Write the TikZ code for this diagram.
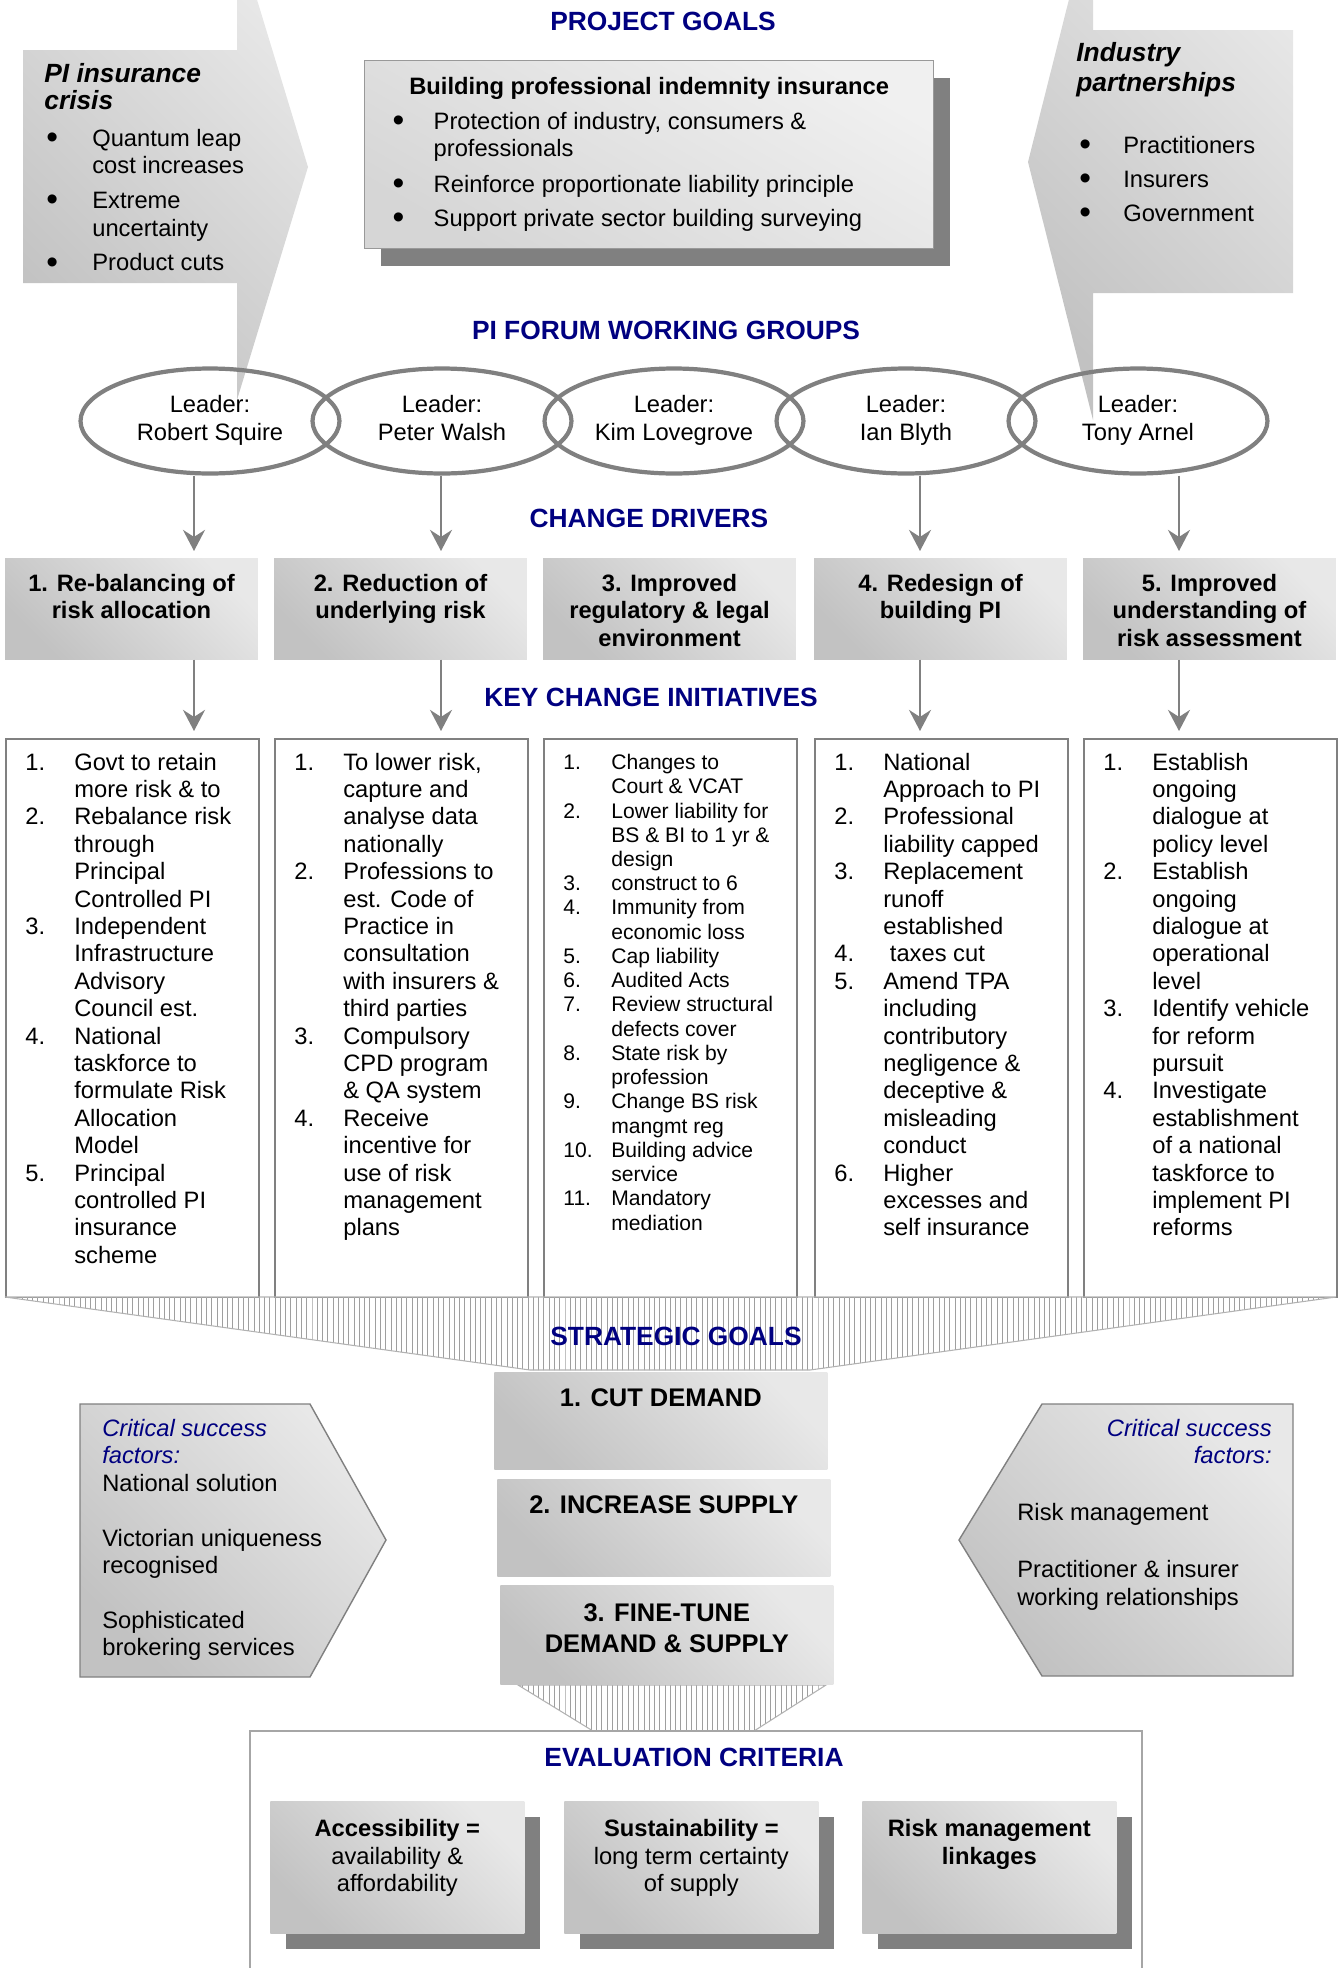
\documentclass[tikz,border=0pt]{standalone}
\usepackage{fontspec}
\setmainfont{Liberation Sans}
\usepackage{tikz}
\usetikzlibrary{shadows}
\usetikzlibrary{arrows.meta,shapes.geometric,patterns}
\definecolor{navy}{RGB}{0,0,128}
\newcommand{\bodyfont}{\fontsize{13.5}{15.6}\selectfont}
\newcommand{\smallbody}{\fontsize{12}{13.8}\selectfont}
\newcommand{\headfont}{\fontsize{15}{17}\selectfont\bfseries}
\newcommand{\goalfont}{\fontsize{14.5}{17.5}\selectfont\bfseries}
\newcommand{\textrows}[2][c]{\begin{tabular}[t]{@{}#1@{}}#2\end{tabular}}
\newcommand{\bigdot}{\raisebox{-1.2pt}{\fontsize{19}{15}\selectfont\textbullet}}
\tikzstyle{heading}=[font=\headfont, text=navy]
\tikzstyle{greyshade}=[top color=gray!18, bottom color=gray!48, shading angle=-45]
\tikzstyle{leader}=[ellipse, draw=gray, line width=2.4pt, minimum width=5.18cm, minimum height=2.1cm, align=center, font=\bodyfont]
\tikzstyle{driver}=[greyshade, anchor=north, minimum width=5.06cm, inner sep=0pt, font=\bodyfont\bfseries, text height=0.66cm, text depth=1.36cm]
\tikzstyle{initbox}=[draw=gray, line width=0.9pt, anchor=north west, minimum width=5.06cm, minimum height=11.18cm, inner sep=0pt]
\tikzstyle{initlist}=[anchor=base west, inner sep=0pt, font=\bodyfont]
\tikzstyle{flow}=[draw=gray, line width=1.5pt, shorten >=0.14cm, -{Stealth[length=12pt,width=12.5pt,inset=4pt]}]
\tikzstyle{hatch}=[pattern=vertical lines, pattern color=gray!75, draw=gray!60, line width=0.6pt]
\tikzstyle{projbox}=[top color=gray!12, bottom color=gray!32, shading angle=-30, draw=gray!80, line width=0.8pt, anchor=north west, minimum width=11.38cm, inner sep=0pt, font=\bodyfont, text height=0.68cm, text depth=3.08cm, drop shadow={shadow xshift=0.32cm, shadow yshift=-0.34cm, fill=gray, opacity=1}]
\tikzstyle{goal}=[greyshade, anchor=north west, minimum width=6.66cm, inner sep=0pt, font=\goalfont, text height=0.68cm, text depth=1.26cm]
\tikzstyle{evalbox}=[greyshade, anchor=north west, minimum width=5.08cm, inner sep=0pt, font=\bodyfont, text height=0.71cm, text depth=1.93cm, drop shadow={shadow xshift=0.32cm, shadow yshift=-0.32cm, fill=gray, opacity=1}]
\tikzstyle{csf}=[greyshade, draw=gray, line width=0.8pt]

\begin{document}
\begin{tikzpicture}[x=0.02cm, y=-0.02cm]
    \useasboundingbox (0,0) rectangle (1343,1968);
    \clip (0,0) rectangle (1343,1968);

    % side arrows
    \path[greyshade] (23,50) -- (237,50) -- (237,-66) -- (308,167) -- (237,400) -- (237,283) -- (23,283) -- cycle;
    \path[greyshade] (1293,30) -- (1093,30) -- (1093,-96) -- (1028,162) -- (1093,420) -- (1093,293) -- (1293,293) -- cycle;

    \node[anchor=base west, inner sep=0pt, font=\fontsize{15}{15.9}\selectfont\bfseries\itshape] (crisis) at (44,82) {\textrows[l]{PI insurance\\crisis}};
    \node[initlist] (crisislist) at (46,146.5) {\begin{tabular}[t]{@{}p{0.92cm}@{}l@{}}
        \bigdot & Quantum leap\\ & cost increases\\[4.2pt]
        \bigdot & Extreme\\ & uncertainty\\[4.2pt]
        \bigdot & Product cuts
    \end{tabular}};

    \node[anchor=base west, inner sep=0pt, font=\fontsize{15}{17}\selectfont\bfseries\itshape] (partners) at (1076,61.5) {\textrows[l]{Industry\\partnerships}};
    \node[initlist] (partnerlist) at (1079,153.5) {\begin{tabular}[t]{@{}p{0.88cm}@{}l@{}}
        \bigdot & Practitioners\\[3.7pt]
        \bigdot & Insurers\\[3.7pt]
        \bigdot & Government
    \end{tabular}};

    % project goals
    \node[heading] (projtitle) at (663,21) {PROJECT GOALS};
    \node[projbox] (project) at (364,60) {\begin{tabular}[t]{@{}p{0.82cm}@{}p{9.44cm}@{}}
        \multicolumn{2}{@{}c@{}}{\bfseries Building professional indemnity insurance}\\[4pt]
        \bigdot & Protection of industry, consumers \&\\ & professionals\\[5pt]
        \bigdot & Reinforce proportionate liability principle\\[3.5pt]
        \bigdot & Support private sector building surveying
    \end{tabular}};

    % working groups
    \node[heading] (forumtitle) at (666,330) {PI FORUM WORKING GROUPS};
    \foreach \x/\name/\who in {210/e1/Robert Squire, 442/e2/Peter Walsh, 674/e3/Kim Lovegrove, 906/e4/Ian Blyth, 1138/e5/Tony Arnel}
        \node[leader] (\name) at (\x,421) {\textrows{Leader:\\\who\strut}};

    % change drivers
    \node[heading] (drivertitle) at (649,518) {CHANGE DRIVERS};
    \foreach \x/\name/\txt in {131.5/d1/{1. Re-balancing of\\risk allocation}, 400.5/d2/{2. Reduction of\\underlying risk}, 669.5/d3/{3. Improved\\regulatory \& legal\\environment}, 940.5/d4/{4. Redesign of\\building PI}, 1209.5/d5/{5. Improved\\understanding of\\risk assessment}}
        \node[driver] (\name) at (\x,558) {\textrows{\txt}};

    % key change initiatives
    \node[heading] (inittitle) at (651,697) {KEY CHANGE INITIATIVES};
    \foreach \x/\name in {5/k1, 274/k2, 543/k3, 814/k4, 1083/k5}
        \node[initbox] (\name) at (\x,738) {};

    \foreach \x/\e/\d/\k in {194/e1/d1/k1, 441/e2/d2/k2, 920/e4/d4/k4, 1179/e5/d5/k5} {
        \draw[flow] (\x,0 |- \e.south) -- (\x,0 |- \d.north);
        \draw[flow] (\x,0 |- \d.south) -- (\x,0 |- \k.north);
    }

    \node[initlist] (list1) at (25,770) {\begin{tabular}[t]{@{}p{0.98cm}@{}l@{}}
        1. & Govt to retain\\ & more risk \& to\\
        2. & Rebalance risk\\ & through\\ & Principal\\ & Controlled PI\\
        3. & Independent\\ & Infrastructure\\ & Advisory\\ & Council est.\\
        4. & National\\ & taskforce to\\ & formulate Risk\\ & Allocation\\ & Model\\
        5. & Principal\\ & controlled PI\\ & insurance\\ & scheme
    \end{tabular}};
    \node[initlist] (list2) at (294,770) {\begin{tabular}[t]{@{}p{0.98cm}@{}l@{}}
        1. & To lower risk,\\ & capture and\\ & analyse data\\ & nationally\\
        2. & Professions to\\ & est. Code of\\ & Practice in\\ & consultation\\ & with insurers \&\\ & third parties\\
        3. & Compulsory\\ & CPD program\\ & \& QA system\\
        4. & Receive\\ & incentive for\\ & use of risk\\ & management\\ & plans
    \end{tabular}};
    \node[initlist, font=\smallbody] (list3) at (563,769.5) {\begin{tabular}[t]{@{}p{0.96cm}@{}l@{}}
        1. & Changes to\\ & Court \& VCAT\\
        2. & Lower liability for\\ & BS \& BI to 1 yr \&\\ & design\\
        3. & construct to 6\\
        4. & Immunity from\\ & economic loss\\
        5. & Cap liability\\
        6. & Audited Acts\\
        7. & Review structural\\ & defects cover\\
        8. & State risk by\\ & profession\\
        9. & Change BS risk\\ & mangmt reg\\
        10. & Building advice\\ & service\\
        11. & Mandatory\\ & mediation
    \end{tabular}};
    \node[initlist] (list4) at (834,770) {\begin{tabular}[t]{@{}p{0.98cm}@{}l@{}}
        1. & National\\ & Approach to PI\\
        2. & Professional\\ & liability capped\\
        3. & Replacement\\ & runoff\\ & established\\
        4. & \ taxes cut\\
        5. & Amend TPA\\ & including\\ & contributory\\ & negligence \&\\ & deceptive \&\\ & misleading\\ & conduct\\
        6. & Higher\\ & excesses and\\ & self insurance
    \end{tabular}};
    \node[initlist] (list5) at (1103,770) {\begin{tabular}[t]{@{}p{0.98cm}@{}l@{}}
        1. & Establish\\ & ongoing\\ & dialogue at\\ & policy level\\
        2. & Establish\\ & ongoing\\ & dialogue at\\ & operational\\ & level\\
        3. & Identify vehicle\\ & for reform\\ & pursuit\\
        4. & Investigate\\ & establishment\\ & of a national\\ & taskforce to\\ & implement PI\\ & reforms
    \end{tabular}};

    % strategic goals
    \path[hatch] (5,1297) -- (1336,1297) -- (810,1370) -- (530,1370) -- cycle;
    \path[hatch] (518,1685) -- (826,1685) -- (754,1731) -- (593,1731) -- cycle;
    \node[heading] (goaltitle) at (676,1336) {STRATEGIC GOALS};
    \node[goal] (g1) at (494,1372) {1. CUT DEMAND};
    \node[goal] (g2) at (497,1479) {2. INCREASE SUPPLY};
    \node[goal, text height=0.72cm] (g3) at (500,1585) {\textrows{3. FINE-TUNE\\DEMAND \& SUPPLY}};

    % critical success factors
    \path[csf] (80,1404) -- (310,1404) -- (386,1540) -- (310,1677) -- (80,1677) -- cycle;
    \path[csf] (1293,1404) -- (1042,1404) -- (959,1540) -- (1042,1676) -- (1293,1676) -- cycle;
    \node[anchor=base west, inner sep=0pt, font=\bodyfont] (csfleft) at (102,1436.5) {\textrows[l]{\textcolor{navy}{\itshape Critical success}\\\textcolor{navy}{\itshape factors:}\\National solution\\[15.6pt]Victorian uniqueness\\recognised\\[15.6pt]Sophisticated\\brokering services}};
    \node[anchor=base east, inner sep=0pt, font=\bodyfont\itshape, text=navy] (csfright) at (1272,1436.5) {\textrows[r]{Critical success\\factors:}};
    \node[anchor=base west, inner sep=0pt, font=\bodyfont] (csfrisk) at (1017,1520.5) {\textrows[l]{Risk management\\[17pt]Practitioner \& insurer\\working relationships}};

    % evaluation criteria
    \draw[gray!70, line width=1.2pt] (250,1990) -- (250,1731) -- (1142,1731) -- (1142,1990);
    \node[heading] (evaltitle) at (694,1757) {EVALUATION CRITERIA};
    \node[evalbox] (b1) at (270,1801) {\textrows{\textbf{Accessibility =}\\availability \&\\affordability}};
    \node[evalbox] (b2) at (564,1801) {\textrows{\textbf{Sustainability =}\\long term certainty\\of supply}};
    \node[evalbox, font=\bodyfont\bfseries] (b3) at (862,1801) {\textrows{Risk management\\linkages}};

\end{tikzpicture}
\end{document}
